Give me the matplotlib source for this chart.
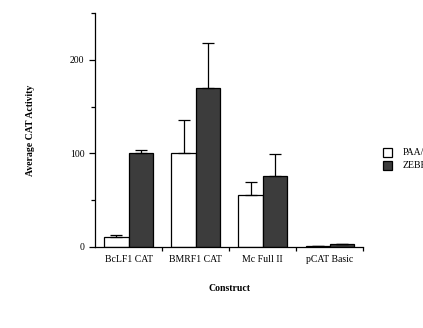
import numpy as np
import matplotlib.pyplot as plt
from matplotlib.patches import Rectangle

plt.rcParams['font.family'] = ['Liberation Serif', 'DejaVu Serif']

constructs = ['BcLF1 CAT', 'BMRF1 CAT', 'Mc Full II', 'pCAT Basic']
paa = [11, 100, 56, 1.5]
paa_err = [2, 36, 14, 0]
zebra = [100, 170, 75.5, 3]
zebra_err = [4, 48, 24, 0]
series_names = ['PAA/ZEBRA', 'ZEBRA']

fig = plt.figure(figsize=(4.23, 3.28), dpi=100)
ax = fig.add_axes([0.2246, 0.247, 0.634, 0.713])

x = np.arange(len(constructs))
w = 0.36
ax.bar(x - w / 2, paa, w, color='white', edgecolor='black', linewidth=0.9,
       yerr=[np.zeros(4), paa_err], error_kw=dict(ecolor='black', elinewidth=0.9, capsize=4, capthick=0.9))
ax.bar(x + w / 2, zebra, w, color='#3c3c3c', edgecolor='black', linewidth=0.9,
       yerr=[np.zeros(4), zebra_err], error_kw=dict(ecolor='black', elinewidth=0.9, capsize=4, capthick=0.9))

ax.set_xlim(-0.5, 3.5)
ax.set_ylim(0, 250)
ax.spines['top'].set_visible(False)
ax.spines['right'].set_visible(False)
ax.spines['left'].set_linewidth(0.9)
ax.spines['bottom'].set_linewidth(0.9)

ax.set_yticks([0, 100, 200])
ax.set_yticks([50, 150, 250], minor=True)
ax.tick_params(axis='y', which='major', length=4, width=0.9, labelsize=7)
ax.tick_params(axis='y', which='minor', length=3, width=0.9)

ax.set_xticks(x)
ax.set_xticklabels(constructs, fontsize=7)
ax.set_xticks([0.5, 1.5, 2.5, 3.5], minor=True)
ax.tick_params(axis='x', which='major', length=0, pad=6)
ax.tick_params(axis='x', which='minor', length=3, width=0.9)

ax.set_ylabel('Average CAT Activity', fontsize=7, fontweight='bold', labelpad=25)
ax.set_xlabel('Construct', fontsize=7, fontweight='bold', labelpad=14)

# legend drawn at right edge (text runs off figure, as in the reference)
for i, (name, fc) in enumerate(zip(series_names, ['white', '#3c3c3c'])):
    yy = 1 - (153 + i * 13) / 328
    fig.patches.append(Rectangle((383 / 423, yy - 4 / 328), 9 / 423, 9 / 328,
                                 transform=fig.transFigure, facecolor=fc,
                                 edgecolor='black', linewidth=0.9))
    fig.text(403 / 423, yy + 0.5 / 328, name, fontsize=7, va='center')

fig.savefig('out.png', dpi=100)
